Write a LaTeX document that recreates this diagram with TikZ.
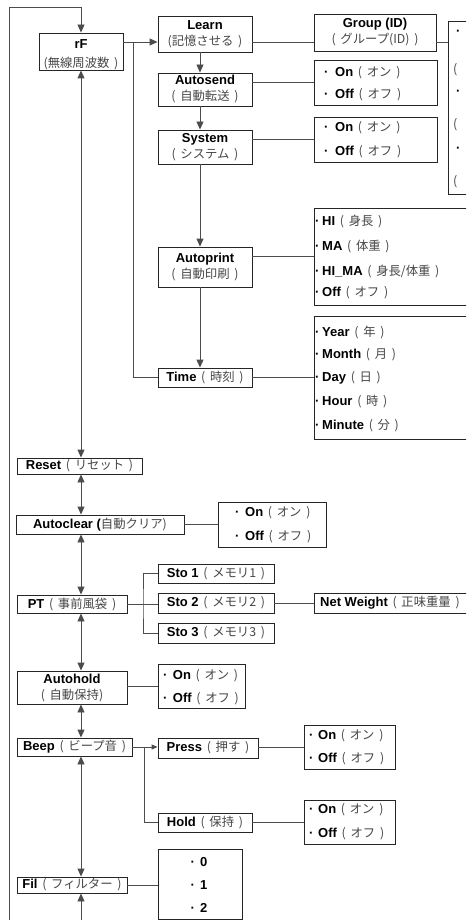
\documentclass[tikz,border=0pt]{standalone}
\usepackage{fontspec}
\setmainfont{Liberation Sans}
\newfontfamily\jpf[Scale=0.95,WordSpace=1.7]{Noto Sans CJK JP}
\usetikzlibrary{arrows.meta}
\definecolor{jpc}{gray}{0.28}
\definecolor{ln}{gray}{0.3}
\definecolor{bx}{gray}{0.15}
\newcommand{\J}[1]{{\jpf\color{jpc}#1}}
\newcommand{\B}[1]{\textbf{#1}}
\newcommand{\mybox}[6]{\node[box,minimum width=#4pt,minimum height=#5pt] (#1) at (#2,#3) {#6};}
\newcommand{\opt}[5]{\node[itm] (#1) at (#2,#3) {\textbf{·}\hspace{#4pt}#5};}
\begin{document}
\begin{tikzpicture}[x=1pt,y=-1pt,
  box/.style={draw=bx, line width=0.9pt, inner sep=0pt, align=center, font=\fontsize{13}{16}\selectfont},
  itm/.style={anchor=west, inner sep=0pt, font=\fontsize{13}{16}\selectfont},
  conn/.style={draw=ln, line width=0.9pt},
  arr/.style={conn, -{Triangle[length=8pt,width=7pt]}},
  sarr/.style={conn, -{Triangle[length=6pt,width=5pt]}},
  darr/.style={conn, {Triangle[length=8pt,width=7pt]}-{Triangle[length=8pt,width=7pt]}},
]
\useasboundingbox (0,0) rectangle (466,920);
\fill[white] (0,0) rectangle (466,920);
\clip (0,0) rectangle (466,920);

% upper branch
\mybox{rF}{81}{51.5}{84}{37}{\rule{0pt}{15pt}\B{rF}\\[3pt]\J{(無線周波数 )}}
\mybox{Learn}{205}{34}{94}{36}{\B{Learn}\\\J{(記憶させる )}}
\mybox{Autosend}{205}{89.5}{94}{33}{\B{Autosend}\\\J{( 自動転送 )}}
\mybox{System}{205}{147}{94}{34}{\B{System}\\\J{( システム )}}
\mybox{Autoprint}{205}{267}{94}{40}{\B{Autoprint}\\\J{( 自動印刷 )}}
\mybox{Time}{205}{377.5}{94}{19}{\B{Time}\J{\ ( 時刻 )}}
\mybox{Group}{375}{32.5}{122}{37}{\B{Group (ID)}\\\J{( グループ(ID) )}}

\mybox{ASO}{375.5}{82.5}{123}{45}{}
\opt{aso1}{324}{73}{6.7}{\B{On}\J{\ ( オン )}}
\opt{aso2}{324}{95}{6.7}{\B{Off}\J{\ ( オフ )}}
\mybox{SO}{375.5}{139.5}{123}{45}{}
\opt{so1}{324}{128}{6.7}{\B{On}\J{\ ( オン )}}
\opt{so2}{324}{152}{6.7}{\B{Off}\J{\ ( オフ )}}

\mybox{GO}{484}{107.5}{72}{173}{}
\opt{go1}{456}{33}{0}{}
\node[itm] (go1b) at (453,70) {\J{(}};
\opt{go2}{456}{93}{0}{}
\node[itm] (go2b) at (453,125) {\J{(}};
\opt{go3}{456}{150}{0}{}
\node[itm] (go3b) at (453,182) {\J{(}};

\mybox{APO}{402}{256.5}{176}{97}{}
\opt{ap1}{315}{222}{2.7}{\B{HI}\J{\ ( 身長 )}}
\opt{ap2}{315}{247}{2.7}{\B{MA}\J{\ ( 体重 )}}
\opt{ap3}{315}{272}{2.7}{\B{HI\_MA}\J{\ ( 身長/体重 )}}
\opt{ap4}{315}{293}{2.7}{\B{Off}\J{\ ( オフ )}}

\mybox{TO}{402}{377.5}{176}{123}{}
\opt{to1}{315}{332}{2.7}{\B{Year}\J{\ ( 年 )}}
\opt{to2}{315}{355}{2.7}{\B{Month}\J{\ ( 月 )}}
\opt{to3}{315}{378}{2.7}{\B{Day}\J{\ ( 日 )}}
\opt{to4}{315}{402}{2.7}{\B{Hour}\J{\ ( 時 )}}
\opt{to5}{315}{426}{2.7}{\B{Minute}\J{\ ( 分 )}}

% main column
\mybox{Reset}{79.5}{466}{125}{16}{\B{Reset}\J{\ ( リセット )}}
\mybox{Autoclear}{100}{524.5}{168}{19}{\B{Autoclear (}\J{自動クリア)}}
\mybox{ACO}{272}{524.5}{108}{45}{}
\opt{ac1}{235}{513}{5.7}{\B{On}\J{\ ( オン )}}
\opt{ac2}{235}{537}{5.7}{\B{Off}\J{\ ( オフ )}}

\mybox{PT}{72}{604}{110}{18}{\B{PT}\J{\ ( 事前風袋 )}}
\mybox{Sto1}{216}{573.5}{116}{19}{\B{Sto 1}\J{\ ( メモリ1 )}}
\mybox{Sto2}{216}{603}{116}{20}{\B{Sto 2}\J{\ ( メモリ2 )}}
\mybox{Sto3}{216}{633}{116}{20}{\B{Sto 3}\J{\ ( メモリ3 )}}
\mybox{NW}{392}{603}{156}{20}{}
\node[itm] (NWt) at (320,603) {\B{Net Weight}\J{\ ( 正味重量 )}};

\mybox{Autohold}{72}{687.5}{110}{33}{\B{Autohold}\\\J{( 自動保持)}}
\mybox{AHO}{201.5}{686}{87}{44}{}
\opt{ah1}{163}{676}{5.4}{\B{On}\J{\ ( オン )}}
\opt{ah2}{163}{699}{5.4}{\B{Off}\J{\ ( オフ )}}

\mybox{Beep}{74.5}{747}{115}{18}{\B{Beep}\J{\ ( ビープ音 )}}
\mybox{Press}{208}{748}{100}{20}{\B{Press}\J{\ ( 押す )}}
\mybox{PO}{349.5}{747}{91}{44}{}
\opt{po1}{309}{736}{4.7}{\B{On}\J{\ ( オン )}}
\opt{po2}{309}{759}{4.7}{\B{Off}\J{\ ( オフ )}}
\mybox{Hold}{205}{822.5}{94}{19}{\B{Hold}\J{\ ( 保持 )}}
\mybox{HO}{349.5}{822}{91}{44}{}
\opt{ho1}{309}{810}{4.7}{\B{On}\J{\ ( オン )}}
\opt{ho2}{309}{834}{4.7}{\B{Off}\J{\ ( オフ )}}

\mybox{Fil}{72}{885}{110}{16}{\B{Fil}\J{\ ( フィルター )}}
\mybox{FO}{200}{884}{84}{70}{}
\opt{fo1}{190.5}{862}{5.2}{\B{0}}
\opt{fo2}{190.5}{885}{5.2}{\B{1}}
\opt{fo3}{190.5}{908}{5.2}{\B{2}}

% helper coordinates
\coordinate (xM) at (81,0);
\coordinate (xC) at (200,0);
\coordinate (yA) at (0,42);
\coordinate (LT) at (9,7);
\coordinate (RT) at (81,7);
\coordinate (LB) at (9,935);
\coordinate (FB) at (81,935);
\coordinate (jR) at (133,42);
\coordinate (jPT) at (143,604);
\coordinate (jB) at (144,747);

% connectors
\draw[arr] (LB) -- (LT) -- (RT) -- (rF.north);
\draw[arr] (rF.east |- yA) -- (Learn.west |- yA);
\draw[conn] (jR) |- (Time.west);
\draw[conn] (Learn.east |- yA) -- (Group.west |- yA);
\draw[conn] (Group.east |- yA) -- (GO.west |- yA);
\draw[arr] (Learn.south -| xC) -- (Autosend.north -| xC);
\draw[arr] (Autosend.south -| xC) -- (System.north -| xC);
\draw[arr] (System.south -| xC) -- (Autoprint.north -| xC);
\draw[arr] (Autoprint.south -| xC) -- (Time.north -| xC);
\draw[conn] (Autosend.east |- ASO.west) -- (ASO.west);
\draw[conn] (System.east |- SO.west) -- (SO.west);
\draw[conn] (Autoprint.east |- APO.west) -- (APO.west);
\draw[conn] (Time.east |- TO.west) -- (TO.west);

\draw[darr] (rF.south) -- (Reset.north -| xM);
\draw[darr] (Reset.south -| xM) -- (Autoclear.north -| xM);
\draw[darr] (Autoclear.south -| xM) -- (PT.north -| xM);
\draw[darr] (PT.south -| xM) -- (Autohold.north -| xM);
\draw[darr] (Autohold.south -| xM) -- (Beep.north -| xM);
\draw[darr] (Beep.south -| xM) -- (Fil.north -| xM);
\draw[arr] (FB) -- (Fil.south -| xM);

\draw[conn] (Autoclear.east |- ACO.west) -- (ACO.west);
\draw[conn] (PT.east) -- (Sto2.west |- PT.east);
\draw[conn] (Sto1.west) -| (jPT) |- (Sto3.west);
\draw[conn] (Sto2.east) -- (NW.west);
\draw[conn] (Autohold.east |- AHO.west) -- (AHO.west);
\draw[sarr] (Beep.east) -- (Press.west |- Beep.east);
\draw[conn] (jB) |- (Hold.west);
\draw[conn] (Press.east |- PO.west) -- (PO.west);
\draw[conn] (Hold.east |- HO.west) -- (HO.west);
\draw[conn] (Fil.east) -- (Fil.east -| FO.west);
\end{tikzpicture}
\end{document}
